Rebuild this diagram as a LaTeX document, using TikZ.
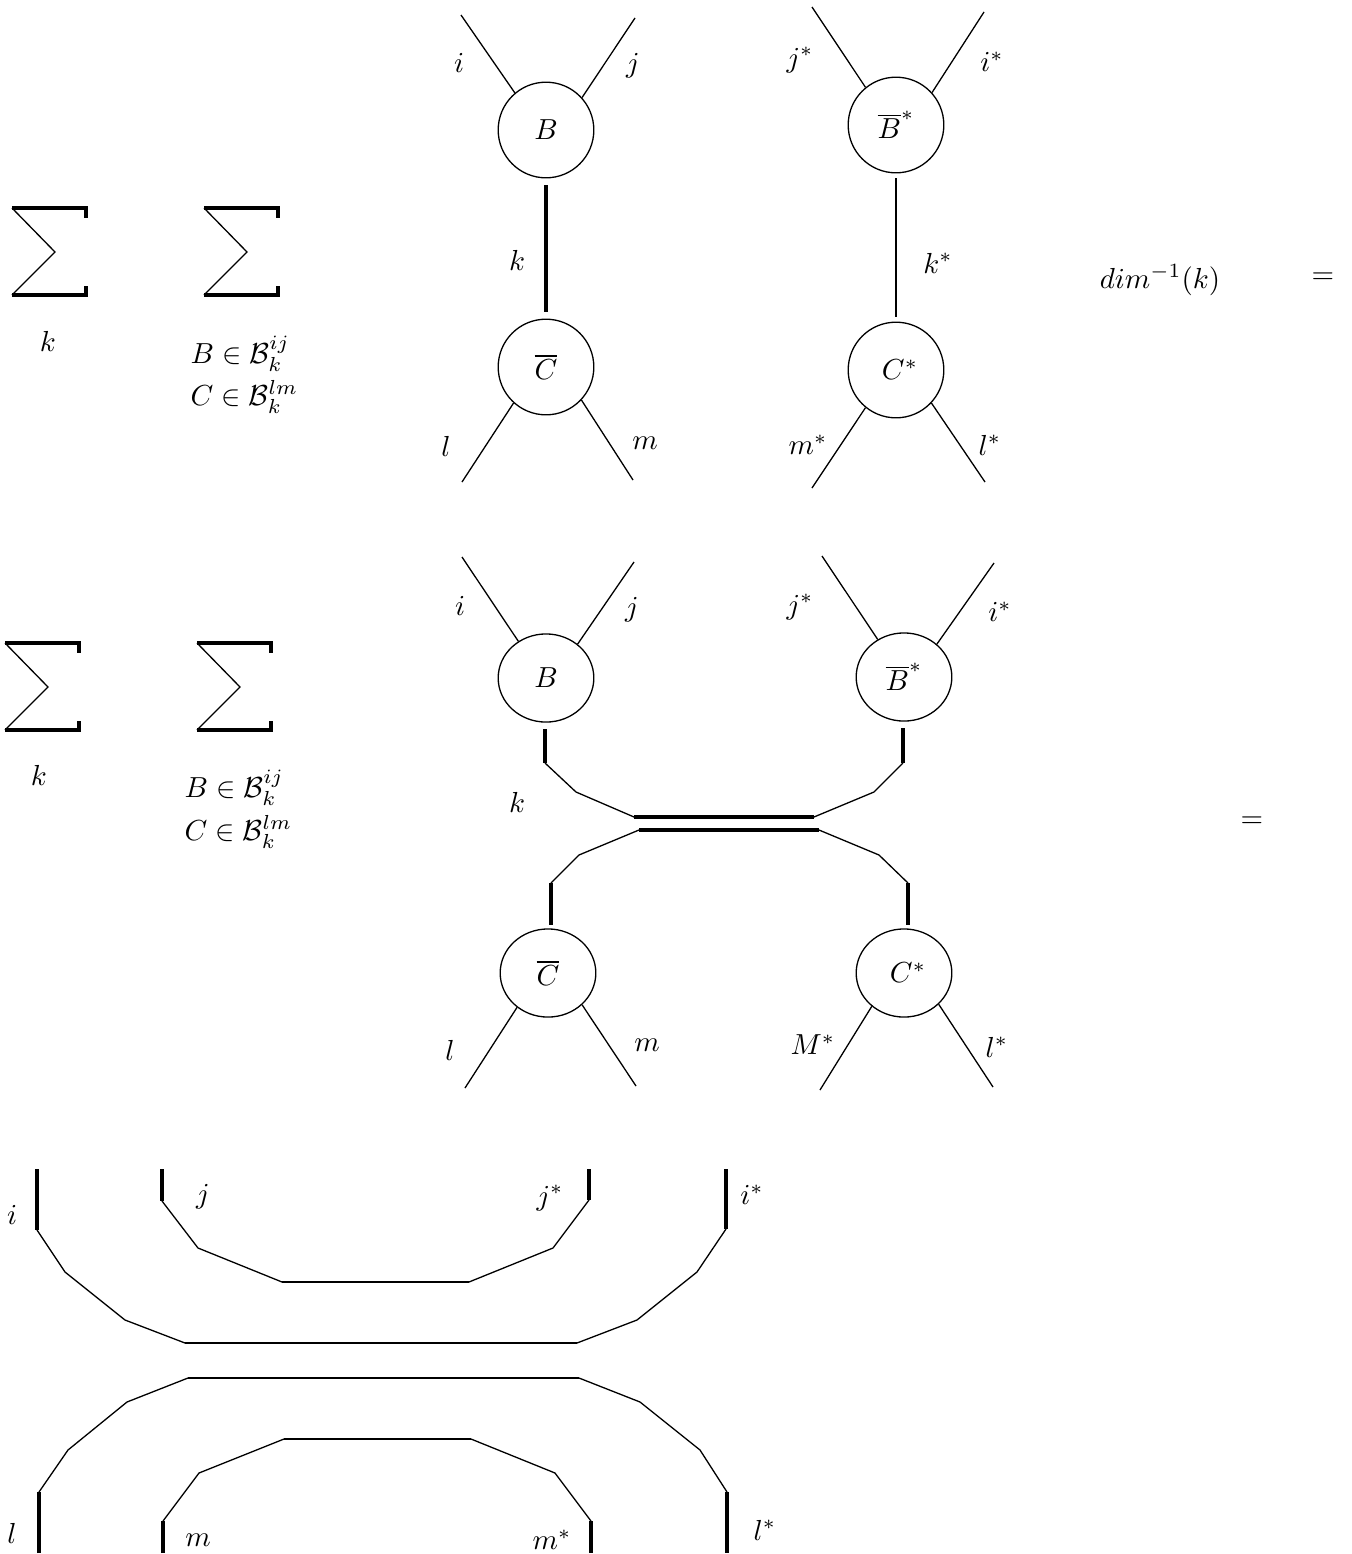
\documentclass[tikz,border=0pt]{standalone}
\usepackage{amsmath,amssymb}
\usetikzlibrary{shapes.geometric}
\begin{document}
\begin{tikzpicture}[x=0.345pt,y=-0.345pt,
  vtx/.style={circle, draw, line width=0.45pt, minimum size=33pt, inner sep=0pt},
  vtxe/.style={ellipse, draw, line width=0.45pt, minimum width=33pt, minimum height=30.4pt, inner sep=0pt},
  leg/.style={line width=0.45pt},
  lbl/.style={inner sep=0pt},
  thickv/.style={line width=1.1pt},
  thinl/.style={line width=0.45pt},
  midh/.style={line width=0.8pt},
  bigsum/.pic={
    \draw[line width=1.1pt] (0,0) -- (74,0) -- (74,10);
    \draw[line width=1.1pt] (0,87) -- (74,87) -- (74,78);
    \draw[line width=0.45pt] (0,0) -- (43,44) -- (0,87);
  }]
\useasboundingbox (0,0) rectangle (1351,1554);

% ================= top row =================
\pic at (12,208) {bigsum};
\pic at (204,208) {bigsum};
\node[lbl] (ka) at (48,341) {$k$};
\node[lbl, anchor=base west] (BinA) at (190,363) {$B\in\mathcal{B}_k^{ij}$};
\node[lbl, anchor=base west] (CinA) at (190,405) {$C\in\mathcal{B}_k^{lm}$};

\node[vtx] (B1) at (546,130) {$B$};
\node[vtx] (C1) at (546,367) {$\overline{C}$};
\coordinate (i1) at (461,15);
\coordinate (j1) at (635,18);
\coordinate (l1) at (462,482);
\coordinate (m1) at (633,480);
\draw[leg] (i1) -- (B1.130);
\draw[leg] (j1) -- (B1.42);
\draw[leg] (l1) -- (C1.228);
\draw[leg] (m1) -- (C1.317);
\draw[line width=1.4pt, shorten <=2.4pt, shorten >=2.4pt] (B1) -- (C1);
\node[lbl] (li1) at (459,63) {$i$};
\node[lbl] (lj1) at (633,66) {$j$};
\node[lbl] (lk1) at (517,260) {$k$};
\node[lbl] (ll1) at (446,446) {$l$};
\node[lbl] (lm1) at (645,443) {$m$};

\node[vtx] (B2) at (896,125) {$\overline{B}^{*}$};
\node[vtx] (C2) at (896,370) {$\;C^{*}$};
\coordinate (j2) at (812,7);
\coordinate (i2) at (984,12);
\coordinate (m2) at (812,488);
\coordinate (l2) at (985,482);
\draw[leg] (j2) -- (B2.129);
\draw[leg] (i2) -- (B2.42);
\draw[leg] (m2) -- (C2.231);
\draw[leg] (l2) -- (C2.317);
\draw[line width=0.7pt, shorten <=1.7pt, shorten >=1.7pt] (B2) -- (C2);
\node[lbl] (lj2) at (800,60) {$j^{*}$};
\node[lbl] (li2) at (992,62) {$i^{*}$};
\node[lbl] (lk2) at (938,263) {$k^{*}$};
\node[lbl] (lm2) at (808,445) {$m^{*}$};
\node[lbl] (ll2) at (990,445) {$l^{*}$};

\node[lbl] (dimk) at (1160,280) {$dim^{-1}(k)$};
\node[lbl] (eq1) at (1323,278) {$=$};

% ================= middle row =================
\pic at (5,643) {bigsum};
\pic at (197,643) {bigsum};
\node[lbl] (kb) at (39,775) {$k$};
\node[lbl, anchor=base west] (BinB) at (184,797) {$B\in\mathcal{B}_k^{ij}$};
\node[lbl, anchor=base west] (CinB) at (184,840) {$C\in\mathcal{B}_k^{lm}$};

\node[vtxe] (B3) at (546,678) {$B$};
\node[vtxe] (C3) at (548,973) {$\overline{C}$};
\node[vtxe] (B4) at (904,677) {$\overline{B}^{*}$};
\node[vtxe] (C4) at (904,973) {$\;C^{*}$};

\coordinate (i3) at (462,557);
\coordinate (j3) at (634,562);
\coordinate (l3) at (465,1088);
\coordinate (m3) at (636,1086);
\coordinate (j4) at (822,556);
\coordinate (i4) at (994,563);
\coordinate (M4) at (820,1090);
\coordinate (l4) at (993,1087);
\draw[leg] (i3) -- (B3.127);
\draw[leg] (j3) -- (B3.47);
\draw[leg] (l3) -- (C3.228);
\draw[leg] (m3) -- (C3.317);
\draw[leg] (j4) -- (B4.125);
\draw[leg] (i4) -- (B4.45);
\draw[leg] (M4) -- (C4.226);
\draw[leg] (l4) -- (C4.318);

\node[lbl] (li3) at (460,606) {$i$};
\node[lbl] (lj3) at (632,610) {$j$};
\node[lbl] (lk3) at (517,802) {$k$};
\node[lbl] (ll3) at (450,1050) {$l$};
\node[lbl] (lm3) at (647,1045) {$m$};
\node[lbl] (lj4) at (800,607) {$j^{*}$};
\node[lbl] (li4) at (1000,612) {$i^{*}$};
\node[lbl] (lM4) at (813,1045) {$M^{*}$};
\node[lbl] (ll4) at (997,1047) {$l^{*}$};
\node[lbl] (eq2) at (1252,822) {$=$};

% bridge
\coordinate (p1) at (545,763);
\coordinate (p2) at (576,792);
\coordinate (p3) at (634,817);
\coordinate (p4) at (814,817);
\coordinate (p5) at (874,792);
\coordinate (p6) at (903,763);
\coordinate (q1) at (551,883);
\coordinate (q2) at (579,855);
\coordinate (q3) at (639,830);
\coordinate (q4) at (819,830);
\coordinate (q5) at (879,855);
\coordinate (q6) at (908,883);
\draw[thickv, shorten >=2pt] (p1) -- (p1 |- B3.south);
\draw[thinl] (p1) -- (p2) -- (p3);
\draw[thickv] (p3) -- (p4);
\draw[thinl] (p4) -- (p5) -- (p6);
\draw[thickv, shorten >=2pt] (p6) -- (p6 |- B4.south);
\draw[thickv, shorten >=1pt] (q1) -- (q1 |- C3.north);
\draw[thinl] (q1) -- (q2) -- (q3);
\draw[thickv] (q3) -- (q4);
\draw[thinl] (q4) -- (q5) -- (q6);
\draw[thickv, shorten >=1pt] (q6) -- (q6 |- C4.north);

% ================= bottom row =================
\coordinate (a0) at (37,1169);
\coordinate (a1) at (37,1230);
\coordinate (a2) at (65,1272);
\coordinate (a3) at (125,1320);
\coordinate (a4) at (185,1343);
\coordinate (a5) at (577,1343);
\coordinate (a6) at (637,1320);
\coordinate (a7) at (697,1272);
\coordinate (a8) at (726,1229);
\coordinate (a9) at (726,1169);
\draw[thickv] (a0) -- (a1);
\draw[thinl] (a1) -- (a2) -- (a3) -- (a4);
\draw[midh] (a4) -- (a5);
\draw[thinl] (a5) -- (a6) -- (a7) -- (a8);
\draw[thickv] (a8) -- (a9);

\coordinate (b0) at (162,1169);
\coordinate (b1) at (162,1201);
\coordinate (b2) at (198,1248);
\coordinate (b3) at (282,1282);
\coordinate (b4) at (469,1282);
\coordinate (b5) at (553,1248);
\coordinate (b6) at (589,1200);
\coordinate (b7) at (589,1169);
\draw[thickv] (b0) -- (b1);
\draw[thinl] (b1) -- (b2) -- (b3);
\draw[midh] (b3) -- (b4);
\draw[thinl] (b4) -- (b5) -- (b6);
\draw[thickv] (b6) -- (b7);

\coordinate (c0) at (39,1553);
\coordinate (c1) at (39,1492);
\coordinate (c2) at (68,1450);
\coordinate (c3) at (127,1402);
\coordinate (c4) at (188,1378);
\coordinate (c5) at (579,1378);
\coordinate (c6) at (640,1402);
\coordinate (c7) at (700,1450);
\coordinate (c8) at (727,1492);
\coordinate (c9) at (727,1553);
\draw[thickv] (c0) -- (c1);
\draw[thinl] (c1) -- (c2) -- (c3) -- (c4);
\draw[midh] (c4) -- (c5);
\draw[thinl] (c5) -- (c6) -- (c7) -- (c8);
\draw[thickv] (c8) -- (c9);

\coordinate (d0) at (163,1553);
\coordinate (d1) at (163,1521);
\coordinate (d2) at (199,1473);
\coordinate (d3) at (284,1439);
\coordinate (d4) at (471,1439);
\coordinate (d5) at (555,1473);
\coordinate (d6) at (591,1521);
\coordinate (d7) at (591,1553);
\draw[thickv] (d0) -- (d1);
\draw[thinl] (d1) -- (d2) -- (d3);
\draw[midh] (d3) -- (d4);
\draw[thinl] (d4) -- (d5) -- (d6);
\draw[thickv] (d6) -- (d7);

\node[lbl] (li5) at (12,1215) {$i$};
\node[lbl] (lj5) at (203,1197) {$j$};
\node[lbl] (lj6) at (550,1198) {$j^{*}$};
\node[lbl] (li6) at (752,1195) {$i^{*}$};
\node[lbl] (ll5) at (12,1533) {$l$};
\node[lbl] (lm5) at (198,1540) {$m$};
\node[lbl] (lm6) at (552,1540) {$m^{*}$};
\node[lbl] (ll6) at (765,1530) {$l^{*}$};
\end{tikzpicture}
\end{document}
